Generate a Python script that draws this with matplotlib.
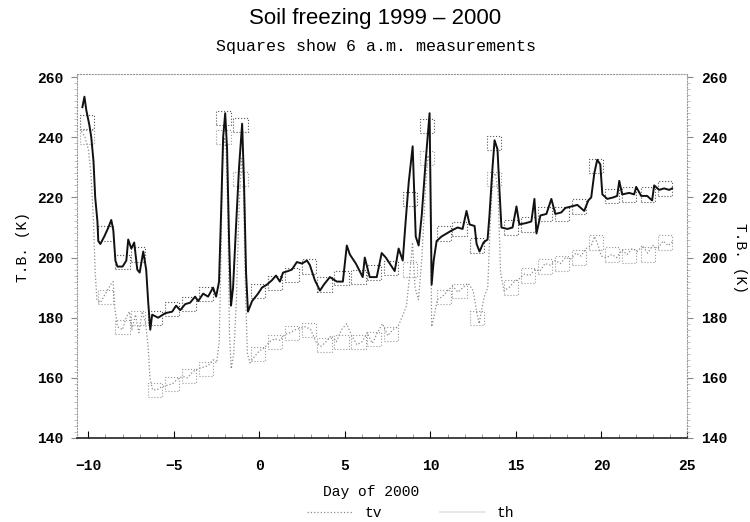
import numpy as np
import matplotlib.pyplot as plt
from matplotlib.ticker import MultipleLocator

# upper trace (solid black)
th_day = [-10.35, -10.23, -10.12, -9.94, -9.83, -9.7, -9.6, -9.47, -9.42, -9.3,
          -9.07, -8.83, -8.66, -8.54, -8.42, -8.3, -8.0, -7.78, -7.67, -7.49,
          -7.32, -7.14, -7.0, -6.79, -6.62, -6.5, -6.38, -6.27, -5.92, -5.5,
          -5.1, -4.87, -4.63, -4.34, -4.05, -3.76, -3.58, -3.29, -3.0, -2.71,
          -2.53, -2.36, -2.24, -2.12, -2.0, -1.89, -1.77, -1.66, -1.54, -1.37,
          -1.19, -1.01, -0.9, -0.78, -0.67, -0.43, -0.08, 0.15, 0.44, 0.74,
          0.97, 1.2, 1.38, 1.67, 1.9, 2.19, 2.49, 2.78, 2.95, 3.24,
          3.54, 3.77, 4.12, 4.53, 4.88, 5.11, 5.29, 5.64, 6.04, 6.16,
          6.45, 6.86, 7.15, 7.39, 7.68, 7.91, 8.14, 8.38, 8.55, 8.73,
          8.96, 9.14, 9.31, 9.49, 9.72, 9.95, 10.07, 10.19, 10.36, 10.65,
          10.95, 11.24, 11.59, 11.88, 12.11, 12.29, 12.58, 12.7, 12.87, 13.1,
          13.34, 13.45, 13.63, 13.75, 13.92, 14.04, 14.15, 14.5, 14.8, 15.03,
          15.2, 15.61, 15.9, 16.08, 16.2, 16.43, 16.78, 17.07, 17.3, 17.65,
          17.89, 18.24, 18.59, 18.99, 19.23, 19.4, 19.58, 19.75, 19.93, 20.05,
          20.34, 20.69, 20.92, 21.04, 21.21, 21.62, 21.91, 22.03, 22.32, 22.67,
          22.96, 23.08, 23.37, 23.66, 23.96, 24.13]
th_val = [250, 253.5, 249, 244, 240, 232, 220, 212, 205.5, 204.5,
          207, 210, 212.5, 209, 199, 197, 197, 199, 206, 203,
          205, 196, 195, 202, 196, 185, 176, 181, 180, 181.5,
          182, 184, 182.5, 184.5, 185, 187, 185.5, 188, 187, 190,
          187, 192, 215, 240, 248, 236, 205, 184, 190, 210,
          230, 244.5, 225, 195, 182, 185.5, 188, 190, 191, 192.5,
          194, 192, 195, 195.5, 196, 198.5, 198, 199, 197.5, 192.5,
          189, 191, 193.5, 192, 192, 204, 201, 198, 193.5, 200,
          193.5, 193.5, 201.5, 200, 197.5, 195.5, 203, 199, 212, 225,
          237, 207, 204, 214, 232, 248, 191, 199, 205.5, 207,
          208, 209, 210, 209.5, 215.5, 211, 210.5, 204.5, 202, 205,
          206, 214, 230, 239, 236, 222, 210, 209.5, 210, 217,
          211, 211.5, 212, 219.5, 208, 214, 214.5, 219.5, 214.5, 215,
          216.5, 217, 217.5, 215.5, 219, 220, 228, 232.5, 231, 221,
          219.5, 220, 220.5, 225.5, 221, 221.5, 221, 223.5, 220.5, 220.5,
          219, 224, 222.5, 223, 222.5, 223]

# lower trace (grey dotted)
tv_day = [-10.4, -10.2, -10.0, -9.85, -9.7, -9.6, -9.5, -9.3, -9.0, -8.7,
          -8.55, -8.45, -8.3, -8.0, -7.8, -7.6, -7.45, -7.25, -7.05, -6.85,
          -6.65, -6.5, -6.4, -6.25, -6.0, -5.7, -5.4, -5.1, -4.8, -4.5,
          -4.2, -3.9, -3.6, -3.3, -3.0, -2.7, -2.5, -2.35, -2.25, -2.15,
          -2.05, -1.95, -1.85, -1.75, -1.65, -1.5, -1.35, -1.2, -1.05, -0.95,
          -0.82, -0.7, -0.55, -0.3, 0.0, 0.3, 0.6, 0.9, 1.2, 1.5,
          1.8, 2.1, 2.4, 2.7, 3.0, 3.3, 3.6, 3.9, 4.2, 4.5,
          4.8, 5.1, 5.4, 5.7, 6.0, 6.3, 6.6, 6.9, 7.2, 7.5,
          7.8, 8.1, 8.4, 8.6, 8.8, 8.95, 9.1, 9.3, 9.5, 9.7,
          9.85, 10.0, 10.07, 10.2, 10.4, 10.7, 11.0, 11.3, 11.6, 11.9,
          12.2, 12.5, 12.7, 12.85, 13.0, 13.15, 13.35, 13.5, 13.65, 13.8,
          13.95, 14.1, 14.3, 14.6, 14.9, 15.2, 15.5, 15.8, 16.1, 16.4,
          16.7, 17.0, 17.3, 17.6, 17.9, 18.2, 18.5, 18.8, 19.1, 19.4,
          19.6, 19.8, 20.0, 20.3, 20.6, 20.9, 21.2, 21.5, 21.8, 22.1,
          22.4, 22.7, 23.0, 23.3, 23.6, 23.9, 24.2]
tv_val = [242, 240, 236, 228, 212, 195, 186, 185, 188, 191,
          192, 183, 177, 176, 180, 182, 176, 181, 175, 182,
          178, 170, 160, 156, 156, 157, 157.5, 158, 159.5, 160.5,
          160, 162, 163, 163.5, 164, 166, 165, 172, 200, 232,
          240, 236, 215, 175, 163, 168, 185, 215, 233, 228,
          190, 168, 165, 167, 169, 170, 172, 173, 172.5, 174.5,
          175, 176, 176.5, 177, 176, 172, 170.5, 172, 174, 172,
          176, 178, 174, 171, 172, 175, 171.5, 175, 178, 174,
          176, 177, 181, 184, 195, 205, 190, 186, 200, 222,
          234, 231, 177, 180, 186, 187, 189, 190.5, 188.5, 190,
          191.5, 189, 182, 178, 183, 187, 190, 212, 227, 228,
          222, 195, 189, 190, 192, 193, 194.5, 194, 196, 195.5,
          198, 197.5, 199, 198, 200, 199.5, 201.5, 200.5, 203, 204,
          207, 204, 200.5, 200, 201, 200, 202.5, 201, 203, 202,
          204, 201.5, 204, 203, 205.5, 204, 205.5]

# 6 a.m. measurements
sq_day = [-10.1, -9.0, -8.0, -7.1, -6.1, -5.1, -4.1, -3.1, -2.1, -1.1,
          -0.1, 0.9, 1.9, 2.9, 3.8, 4.8, 5.8, 6.7, 7.7, 8.8,
          9.8, 10.8, 11.7, 12.7, 13.7, 14.7, 15.7, 16.7, 17.7, 18.7,
          19.7, 20.6, 21.6, 22.7, 23.7]
sq_th = [245, 208, 198.5, 201, 180, 183, 184.5, 188, 246.5, 244,
         189, 191.5, 194.3, 197, 191, 193.3, 193.5, 195, 196.5, 219.5,
         243.7, 208, 209.5, 204, 238, 210, 211, 214.5, 214.5, 217,
         230.5, 220.5, 221, 221, 223]
sq_tv = [240, 187, 177, 180, 156, 158, 160.5, 163, 240, 226,
         168, 172, 175, 176, 171, 172, 172, 172.8, 174.5, 196,
         233, 187, 189, 180, 226, 190, 194, 197, 198, 200,
         205, 201, 200.5, 201, 205]

mono = 'Liberation Mono'

fig = plt.figure(figsize=(7.5, 5.22), dpi=100)
ax = fig.add_axes([0.103, 0.161, 0.813, 0.697])

ax.plot(tv_day, tv_val, color='#8a8a8a', lw=0.9, ls=':', label='tv')
ax.plot(th_day, th_val, color='#111111', lw=1.4, label='th')
ax.scatter(sq_day, sq_tv, marker='s', s=105, facecolors='none',
           edgecolors='#9a9a9a', linewidths=0.8, linestyles=':')
ax.scatter(sq_day, sq_th, marker='s', s=105, facecolors='none',
           edgecolors='#555555', linewidths=0.8, linestyles=':')

ax.set_xlim(-10.65, 24.95)
ax.set_ylim(140, 261)
ax.set_xticks(np.arange(-10, 26, 5))
ax.set_yticks(np.arange(140, 261, 20))
ax.xaxis.set_minor_locator(MultipleLocator(1))
ax.yaxis.set_minor_locator(MultipleLocator(2))

for side in ['top', 'left', 'right']:
    ax.spines[side].set_linestyle(':')
    ax.spines[side].set_color('#999999')
    ax.spines[side].set_linewidth(0.8)
ax.spines['bottom'].set_color('#222222')
ax.spines['bottom'].set_linewidth(1.2)

ax.tick_params(axis='x', direction='in', length=5, width=0.8, labelsize=10.5, pad=15)
ax.tick_params(axis='x', which='minor', direction='in', length=3, width=0.6, color='#888888')
ax.tick_params(axis='y', direction='out', length=4, width=0.8, labelsize=10.5,
               right=True, labelright=True, color='#888888', pad=6)
ax.tick_params(axis='y', which='minor', direction='out', length=2, width=0.5,
               right=True, color='#aaaaaa')
for lab in ax.get_xticklabels() + ax.get_yticklabels():
    lab.set_fontfamily(mono)
    lab.set_fontweight('bold')

ax.set_xlabel('Day of 2000', family=mono, fontsize=10.5)
ax.xaxis.set_label_coords(0.482, -0.13)
ax.set_ylabel('T.B. (K)', family=mono, fontsize=10.5)
ax.yaxis.set_label_coords(-0.078, 0.525)
fig.text(0.987, 0.505, 'T.B. (K)', family=mono, fontsize=10.5, rotation=270,
         ha='center', va='center')

fig.text(0.5, 0.965, 'Soil freezing 1999 \u2013 2000', family='Liberation Sans',
         fontsize=16, ha='center', va='center')
fig.text(0.502, 0.91, 'Squares show 6 a.m. measurements', family=mono,
         fontsize=12, ha='center', va='center')

handles, labels = ax.get_legend_handles_labels()
leg = fig.legend(handles, labels, loc='center', bbox_to_anchor=(0.548, 0.017),
                 ncol=2, frameon=False, prop={'family': mono, 'size': 10.5},
                 handlelength=3.1, columnspacing=4, borderaxespad=0, borderpad=0)
leg.legend_handles[1].set_color('#e8e8e8')

fig.savefig('out.png', dpi=100)
